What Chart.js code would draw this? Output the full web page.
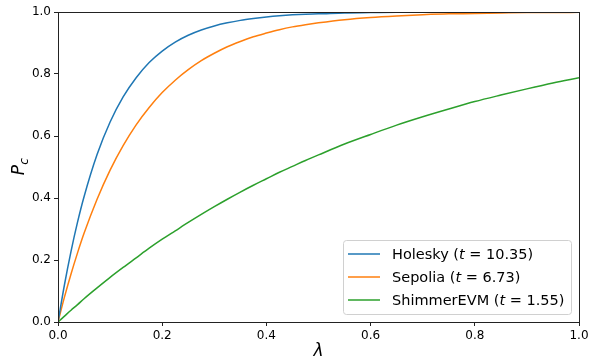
<!DOCTYPE html>
<html>
<head>
<meta charset="utf-8">
<script src="https://cdn.jsdelivr.net/npm/chart.js@4"></script>
<style>
html,body{margin:0;padding:0;background:#fff;}
#wrap{width:592px;height:360px;}
</style>
</head>
<body>
<div id="wrap"><canvas id="pcChart" width="592" height="360"></canvas></div>
<script>
const lambdas = [0,0.0125,0.025,0.0375,0.05,0.075,0.1,0.125,0.15,0.175,0.2,0.225,0.25,0.275,0.3,0.325,0.35,0.375,0.4,0.425,0.45,0.475,0.5,0.55,0.6,0.65,0.7,0.75,0.8,0.85,0.9,0.95,1.0]

const holesky = [0,0.121,0.228,0.322,0.404,0.540,0.645,0.726,0.788,0.837,0.874,0.903,0.925,0.942,0.955,0.965,0.973,0.979,0.984,0.988,0.991,0.993,0.994,0.997,0.998,0.999,0.999,1.0,1.0,1.0,1.0,1.0,1.0]
const sepolia = [0,0.081,0.155,0.223,0.286,0.396,0.490,0.569,0.636,0.692,0.740,0.780,0.814,0.843,0.867,0.888,0.905,0.920,0.932,0.943,0.952,0.959,0.965,0.975,0.982,0.987,0.991,0.994,0.995,0.997,0.998,0.998,0.999]
const shimmer = [0,0.019,0.038,0.056,0.075,0.110,0.144,0.176,0.207,0.238,0.267,0.294,0.321,0.347,0.372,0.396,0.419,0.441,0.462,0.483,0.502,0.521,0.539,0.574,0.605,0.635,0.662,0.687,0.711,0.732,0.752,0.771,0.788]

const seriesNames = ['Holesky','Sepolia','ShimmerEVM']
const tValues = ['10.35','6.73','1.55']
const colors = ['#1f77b4','#ff7f0e','#2ca02c']

const xTicks = [0,0.2,0.4,0.6,0.8,1.0]
const yTicks = [0,0.2,0.4,0.6,0.8,1.0]

const FONT = "'DejaVu Sans', sans-serif"

function pts(ys){
return lambdas.map((x,i)=>({x:x,y:ys[i]}))
}

const allSeries = [holesky,sepolia,shimmer]

const frameAndLegend = {
id:'frameAndLegend',
afterDatasetsDraw(chart){
const {ctx,chartArea:a} = chart
ctx.save()
ctx.strokeStyle = '#222'
ctx.lineWidth = 1
ctx.strokeRect(a.left+0.5,a.top+0.5,a.right-a.left,a.bottom-a.top)
ctx.restore()
},
afterDraw(chart){
const {ctx,chartArea:a} = chart
ctx.save()
// axis titles
ctx.fillStyle = '#000'
ctx.font = 'italic 17px ' + FONT
ctx.textAlign = 'center'
ctx.textBaseline = 'alphabetic'
ctx.fillText('λ',(a.left+a.right)/2,356)

ctx.translate(24,(a.top+a.bottom)/2)
ctx.rotate(-Math.PI/2)
ctx.textAlign = 'left'
ctx.font = 'italic 17px ' + FONT
const pw = ctx.measureText('P').width
ctx.fillText('P',-(pw+6)/2,0)
ctx.font = 'italic 12px ' + FONT
ctx.fillText('c',-(pw+6)/2+pw,4)
ctx.restore()

// legend
const bx = 343.5, by = 240.5, bw = 228, bh = 74
ctx.save()
ctx.fillStyle = 'rgba(255,255,255,0.8)'
ctx.strokeStyle = '#d0d0d0'
ctx.lineWidth = 1
ctx.beginPath()
ctx.roundRect(bx,by,bw,bh,3)
ctx.fill()
ctx.stroke()
ctx.textBaseline = 'middle'
chart.data.datasets.forEach((ds,i)=>{
const y = 254 + i*23
ctx.strokeStyle = ds.borderColor
ctx.lineWidth = 1.5
ctx.beginPath()
ctx.moveTo(348,y)
ctx.lineTo(380,y)
ctx.stroke()
ctx.fillStyle = '#000'
let x = 392
const parts = [
[seriesNames[i] + ' (', 'normal'],
['t', 'italic'],
[' = ' + tValues[i] + ')', 'normal']
]
parts.forEach(p=>{
ctx.font = p[1] + ' 14.5px ' + FONT
ctx.fillText(p[0],x,y+1)
x += ctx.measureText(p[0]).width
})
})
ctx.restore()
}
}

new Chart(document.getElementById('pcChart'),{
type:'line',
data:{
datasets: allSeries.map((s,i)=>({
label: seriesNames[i] + ' (t = ' + tValues[i] + ')',
data: pts(s),
borderColor: colors[i],
backgroundColor: colors[i],
borderWidth: 1.5,
pointRadius: 0,
fill: false,
cubicInterpolationMode: 'monotone'
}))
},
options:{
responsive:false,
animation:false,
layout:{padding:{left:0,right:13,top:12,bottom:0}},
plugins:{
legend:{display:false},
tooltip:{enabled:false}
},
scales:{
x:{
type:'linear',
min:0,
max:1,
afterFit(scale){ scale.height = 38 },
afterBuildTicks(scale){ scale.ticks = xTicks.map(v=>({value:v})) },
grid:{display:true,drawOnChartArea:false,drawTicks:true,tickLength:4,color:'#222'},
border:{display:false},
ticks:{
color:'#000',
padding:3,
maxRotation:0,
font:{family:FONT,size:12},
callback:v=>v.toFixed(1)
}
},
y:{
type:'linear',
min:0,
max:1,
afterFit(scale){ scale.width = 58 },
afterBuildTicks(scale){ scale.ticks = yTicks.map(v=>({value:v})) },
grid:{display:true,drawOnChartArea:false,drawTicks:true,tickLength:4,color:'#222'},
border:{display:false},
ticks:{
color:'#000',
padding:3,
font:{family:FONT,size:12},
callback:v=>v.toFixed(1)
}
}
}
},
plugins:[frameAndLegend]
})
</script>
</body>
</html>
